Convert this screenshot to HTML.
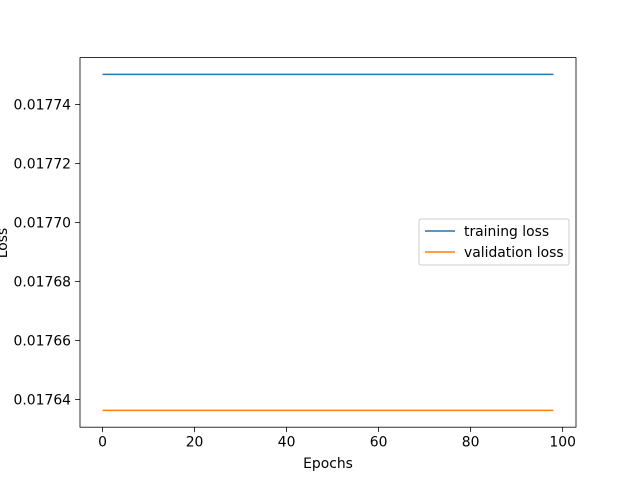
<!DOCTYPE html>
<html><head><meta charset="utf-8"><style>body{margin:0;background:#fff}svg{display:block;font-family:"DejaVu Sans","Liberation Sans",sans-serif}</style></head>
<body>
<svg id="chart" width="640" height="480"></svg>
<script>
const epochs = Array.from({length: 99}, (_, i) => i);
const trainingLoss = new Array(99).fill(0.0177502);
const validationLoss = new Array(99).fill(0.0176363);
const xTicks = [0, 20, 40, 60, 80, 100];
const yTicks = [0.01764, 0.01766, 0.01768, 0.01770, 0.01772, 0.01774];
const yTickLabels = ["0.01764", "0.01766", "0.01768", "0.01770", "0.01772", "0.01774"];

const L = 80, R = 576, T = 57.6, B = 427.2;
const xmin = -4.9, xmax = 102.9, ymin = 0.0176306, ymax = 0.0177559;
const sx = v => L + (v - xmin) / (xmax - xmin) * (R - L);
const sy = v => B - (v - ymin) / (ymax - ymin) * (B - T);
const svg = document.getElementById('chart');
const NS = 'http://www.w3.org/2000/svg';
const FS = 13.9;
function mk(tag, attrs, text) {
  const e = document.createElementNS(NS, tag);
  for (const k in attrs) e.setAttribute(k, attrs[k]);
  if (text !== undefined) e.textContent = text;
  svg.appendChild(e);
  return e;
}
function series(vals, color, name) {
  const d = vals.map((v, i) => (i ? 'L' : 'M') + sx(epochs[i]) + ',' + sy(v)).join('');
  const p = mk('path', {d: d, stroke: color, 'stroke-width': 1.5, fill: 'none'});
  
  
}
series(trainingLoss, '#1f77b4', 'training-loss-line');
series(validationLoss, '#ff7f0e', 'validation-loss-line');
const frame = mk('rect', {x: L, y: T, width: R - L, height: B - T, fill: 'none', stroke: '#000', 'stroke-width': 0.8});


xTicks.forEach(t => {
  const x = sx(t);
  const tk = mk('line', {x1: x, x2: x, y1: B, y2: B + 4.9, stroke: '#000', 'stroke-width': 0.8});
  
  
  const lb = mk('text', {x: x, y: B + 19.5, 'font-size': FS, 'text-anchor': 'middle'}, String(t));
  
  
});
yTicks.forEach((t, i) => {
  const y = sy(t);
  const tk = mk('line', {x1: L - 4.9, x2: L, y1: y, y2: y, stroke: '#000', 'stroke-width': 0.8});
  
  
  const lb = mk('text', {x: L - 9, y: y + 5, 'font-size': FS, 'text-anchor': 'end'}, yTickLabels[i]);
  
  
});
const xl = mk('text', {x: (L + R) / 2, y: 468, 'font-size': FS, 'text-anchor': 'middle'}, 'Epochs');


const yl = mk('text', {x: 0, y: 0, 'font-size': FS, 'text-anchor': 'middle', transform: 'translate(7,243) rotate(-90)'}, 'Loss');


const lg = mk('rect', {x: 419, y: 219, width: 150, height: 46, rx: 2, fill: '#fff', 'fill-opacity': 0.8, stroke: '#ccc', 'stroke-width': 1});


[['training loss', '#1f77b4', 231], ['validation loss', '#ff7f0e', 252]].forEach(([n, c, y]) => {
  const ln = mk('line', {x1: 425, x2: 455, y1: y, y2: y, stroke: c, 'stroke-width': 1.5});
  
  
  const tx = mk('text', {x: 464, y: y + 5, 'font-size': FS}, n);
  
  
});
</script>
</body></html>
